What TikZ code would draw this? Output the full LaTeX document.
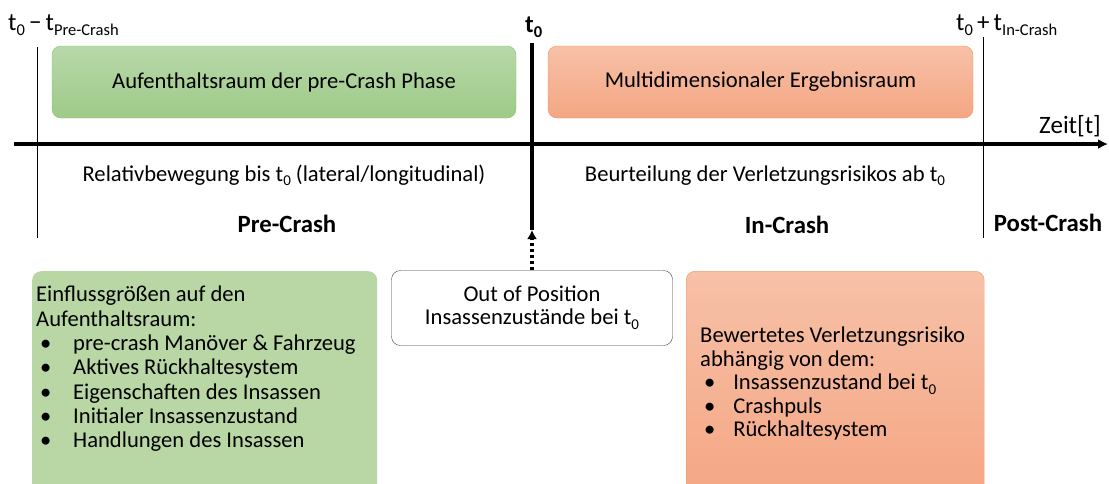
\documentclass[tikz,border=0pt]{standalone}
\usepackage{fontspec}
\setmainfont{Carlito}
\usepackage{xcolor}
\usepackage{tikz}
\usetikzlibrary{arrows.meta,positioning}

\definecolor{greenTop}{RGB}{184,216,170}
\definecolor{greenBot}{RGB}{158,202,135}
\definecolor{greenLine}{RGB}{142,192,112}
\definecolor{greenFlat}{RGB}{184,215,164}
\definecolor{orangeTop}{RGB}{247,193,168}
\definecolor{orangeBot}{RGB}{244,166,131}
\definecolor{orangeLine}{RGB}{240,152,84}

% subscript with explicit size
\newcommand{\low}[2]{\raisebox{-0.22em}{\fontsize{#1}{#1}\selectfont #2}}
% bullet with hanging indent
\newcommand{\blt}[1][37pt]{\makebox[#1][l]{\hspace{4pt}\textbullet}}

\begin{document}
\begin{tikzpicture}[
    x=1pt, y=-1pt,
    >=Latex,
    txt/.style={font=\fontsize{22.6}{23.4}\selectfont, inner sep=0pt},
    phase/.style={font=\fontsize{24.8}{26}\selectfont\bfseries, inner sep=0pt},
    marker/.style={font=\fontsize{25}{26}\selectfont, inner sep=0pt},
    greenbox/.style={draw=greenLine, rounded corners=9pt, top color=greenTop, bottom color=greenBot, minimum height=72pt, inner sep=0pt, txt},
    orangebox/.style={draw=orangeLine, rounded corners=9pt, top color=orangeTop, bottom color=orangeBot, minimum height=72pt, inner sep=0pt, txt},
    listbox/.style={rounded corners=9pt, inner sep=0pt},
    oopbox/.style={draw=black!75, rounded corners=9pt, fill=white, align=center, inner sep=0pt, txt},
    listtxt/.style={txt, align=left},
    axis/.style={-{Latex[length=10pt,width=10pt]}, line width=3.4pt},
    thin/.style={line width=0.9pt},
    thick line/.style={line width=3.6pt},
    dotted arrow/.style={-{Latex[length=9pt,width=10pt]}, line width=3.4pt, dash pattern=on 3pt off 3pt}
]
\useasboundingbox (0,0) rectangle (1109,483);

% Boxes above the time axis.
\node[greenbox, minimum width=464pt] (aufraum) at (284,82) {Aufenthaltsraum der pre-Crash Phase};
\node[orangebox, minimum width=425pt] (ergraum) at (760.5,82) {Multidimensionaler Ergebnisraum};

% Time marks.
\coordinate (pretop) at (37,47);
\coordinate (prebot) at (37,238);
\coordinate (t0top) at (532,43);
\coordinate (t0bot) at (532,230);
\coordinate (intop) at (983,37);
\coordinate (inbot) at (983,238);
\coordinate (axstart) at (14,144);
\coordinate (axend) at (1108,144);

\node[marker, anchor=base west] (tpre) at (8,30) {t\low{16.5}{0}\,−\,t\low{16.5}{Pre-Crash}};
\node[phase, anchor=base west] (tnull) at (525,32) {t\low{16.5}{0}};
\node[marker, anchor=base west] (tin) at (956,30) {t\low{16.5}{0}\,+\,t\low{16.5}{In-Crash}};
\node[marker, anchor=base east] (zeit) at (1101,133) {Zeit[t]};

\draw[thin] (pretop) -- (prebot);
\draw[thin] (intop) -- (inbot);
\draw[thick line] (t0top) -- (t0bot);
\draw[axis] (axstart) -- (axend);

% Phase descriptions.
\node[txt, anchor=base] (relbew) at (284,181) {Relativbewegung bis t\low{15}{0} (lateral/longitudinal)};
\node[phase, anchor=base] (pre) at (287,232) {Pre-Crash};
\node[txt, anchor=base] (beurt) at (765,181) {Beurteilung der Verletzungsrisikos ab t\low{15}{0}};
\node[phase, anchor=base] (in) at (787,233) {In-Crash};
\node[phase, anchor=base] (post) at (1048,231) {Post-Crash};

% Lower boxes.
\node[listbox, fill=greenFlat, anchor=north west, minimum width=345pt, minimum height=230pt] (infbox) at (32,271) {};
\node[listtxt, font=\fontsize{22.6}{24.3}\selectfont, below right=15pt and 4pt of infbox.north west] (inflist) {Einflussgrößen auf den\\
  Aufenthaltsraum:\\
  \blt pre-crash Manöver \& Fahrzeug\\
  \blt Aktives Rückhaltesystem\\
  \blt Eigenschaften des Insassen\\
  \blt Initialer Insassenzustand\\
  \blt Handlungen des Insassen};

\node[oopbox, minimum width=281pt, minimum height=75pt] (oop) at (532,308) {Out of Position\\Insassenzustände bei t\low{15}{0}};

\node[listbox, draw=orangeLine, top color=orangeTop, bottom color=orangeBot, anchor=north west, minimum width=298pt, minimum height=230pt] (riskbox) at (686,271) {};
\node[listtxt, below right=56pt and 14pt of riskbox.north west] (risklist) {Bewertetes Verletzungsrisiko\\
  abhängig von dem:\\
  \blt[28pt] Insassenzustand bei t\low{15}{0}\\
  \blt[28pt] Crashpuls\\
  \blt[28pt] Rückhaltesystem};

\draw[dotted arrow] (oop.north) -- (t0bot);

\end{tikzpicture}
\end{document}
